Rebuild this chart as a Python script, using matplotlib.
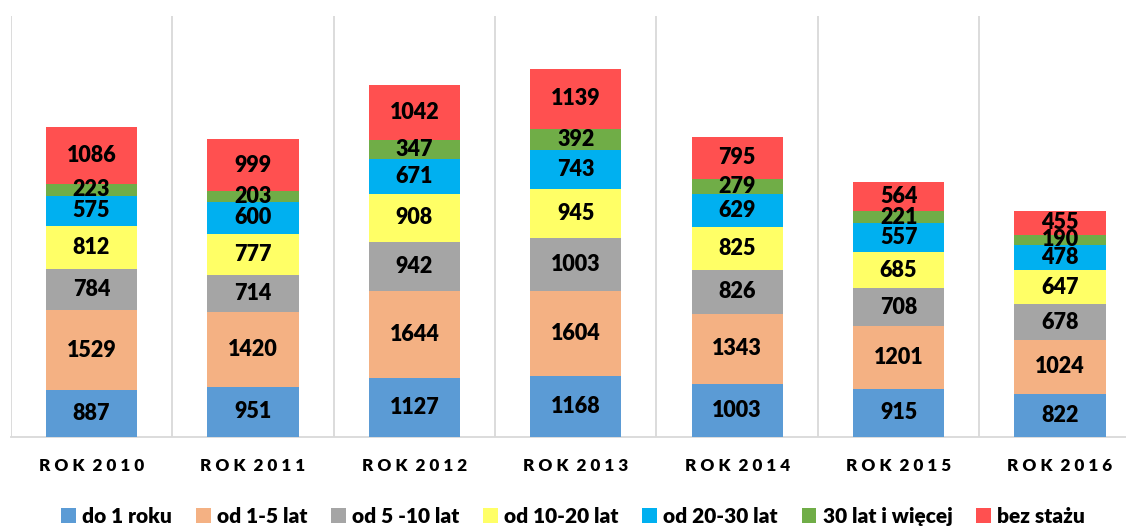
import matplotlib
matplotlib.use('Agg')
import matplotlib.pyplot as plt
import numpy as np

years = ['2010', '2011', '2012', '2013', '2014', '2015', '2016']
series_names = ['do 1 roku', 'od 1-5 lat', 'od 5 -10 lat', 'od 10-20 lat',
                'od 20-30 lat', '30 lat i więcej', 'bez stażu']
do_1 = [887, 951, 1127, 1168, 1003, 915, 822]
od_1_5 = [1529, 1420, 1644, 1604, 1343, 1201, 1024]
od_5_10 = [784, 714, 942, 1003, 826, 708, 678]
od_10_20 = [812, 777, 908, 945, 825, 685, 647]
od_20_30 = [575, 600, 671, 743, 629, 557, 478]
od_30 = [223, 203, 347, 392, 279, 221, 190]
bez_stazu = [1086, 999, 1042, 1139, 795, 564, 455]

COLORS = ['#5B9BD5', '#F4B183', '#A5A5A5', '#FFFF66', '#00B0F0', '#70AD47', '#FF5050']
FONT = ['Lato', 'DejaVu Sans']
WEIGHT = 'heavy'

plt.rcParams['font.family'] = FONT

fig = plt.figure(figsize=(11.26, 5.26), dpi=100)
ax = fig.add_axes([0.0096, 0.1692, 1.0035, 0.8004])

x = np.arange(len(years))
bottom = np.zeros(len(years))
all_series = [do_1, od_1_5, od_5_10, od_10_20, od_20_30, od_30, bez_stazu]
for vals, name, color in zip(all_series, series_names, COLORS):
    vals = np.array(vals)
    ax.bar(x, vals, width=0.565, bottom=bottom, color=color, label=name, zorder=3)
    for xi, b, v in zip(x, bottom, vals):
        ax.text(xi, b + v / 2, str(v), ha='center', va='center',
                fontsize=15.5, fontweight=WEIGHT, color='black', zorder=4)
    bottom += vals

# category separators
for b in np.arange(-0.5, len(years) + 0.5, 1.0):
    ax.axvline(b, color='#d9d9d9', linewidth=1.3, zorder=1)

ax.set_xlim(-0.5, len(years) - 0.5)
ax.set_ylim(0, 8000)
ax.set_yticks([])
ax.set_xticks(x)
ax.set_xticklabels([' '.join('ROK') + '  ' + ' '.join(y) for y in years],
                   fontsize=12.3, fontweight=WEIGHT)
ax.tick_params(axis='x', length=0, pad=15)
for side in ['top', 'right', 'left']:
    ax.spines[side].set_visible(False)
ax.spines['bottom'].set_color('#d9d9d9')
ax.spines['bottom'].set_linewidth(1.3)

fig.legend(loc='center', bbox_to_anchor=(0.509, 0.018), ncol=7, frameon=False,
           prop={'size': 15, 'weight': WEIGHT}, handlelength=0.7, handleheight=0.7,
           handletextpad=0.3, columnspacing=1.15, borderaxespad=0)

fig.savefig('out.png', dpi=100)
